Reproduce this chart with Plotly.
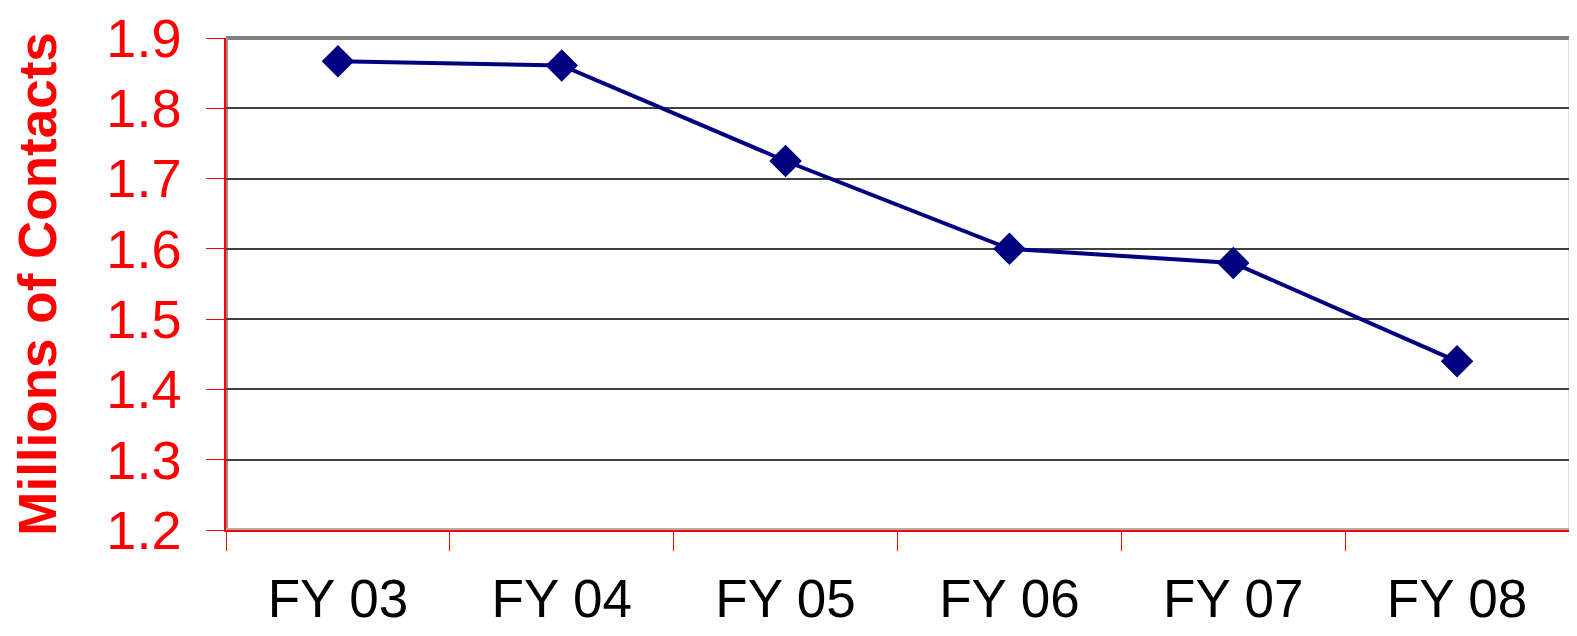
import plotly.graph_objects as go

categories = ["FY 03", "FY 04", "FY 05", "FY 06", "FY 07", "FY 08"]
contacts = [1.867, 1.861, 1.725, 1.600, 1.580, 1.440]
y_ticks = [1.2, 1.3, 1.4, 1.5, 1.6, 1.7, 1.8, 1.9]
y_tick_text = ["1.2", "1.3", "1.4", "1.5", "1.6", "1.7", "1.8", "1.9"]

FONT = "Liberation Sans, Arial, sans-serif"

fig = go.Figure()
fig.add_trace(go.Scatter(
    x=categories, y=contacts, mode="lines+markers",
    line=dict(color="#000080", width=4),
    marker=dict(symbol="diamond", size=25, color="#000080"),
    showlegend=False,
))

fig.update_layout(
    width=1561, height=620,
    margin=dict(l=218, r=0, t=29, b=96),
    paper_bgcolor="white", plot_bgcolor="white",
    font=dict(family=FONT),
    shapes=[
        dict(type="line", xref="paper", yref="paper", x0=0, x1=1, y0=1, y1=1,
             line=dict(color="#808080", width=4), layer="below"),
        dict(type="line", xref="paper", yref="paper", x0=1, x1=1, y0=0, y1=1,
             line=dict(color="#c0c0c0", width=1), layer="below"),
        dict(type="line", xref="paper", yref="paper", x0=0, x1=0, y0=0, y1=1,
             line=dict(color="#909090", width=4), layer="below"),
        dict(type="line", xref="paper", yref="paper", x0=0, x1=1, y0=0, y1=0,
             line=dict(color="#b0b0b0", width=4), layer="below"),
    ],
)

fig.update_xaxes(
    type="category", range=[-0.5, 5.5],
    showgrid=False, showline=True, linecolor="#ff0000", linewidth=1.5,
    ticks="outside", tickson="boundaries", ticklen=19, tickcolor="#ff0000", tickwidth=1,
    tickfont=dict(size=53, color="black", family=FONT),
    ticklabelstandoff=22,
    ticklabeloverflow="allow",
)
fig.update_yaxes(
    range=[1.2, 1.9], tickvals=y_ticks, ticktext=y_tick_text,
    showgrid=True, gridcolor="#404040", gridwidth=1.5,
    showline=True, linecolor="#ff0000", linewidth=1.5,
    ticks="outside", ticklen=18, tickcolor="#ff0000", tickwidth=1,
    tickfont=dict(size=54, color="#ff0000", family=FONT),
    ticklabelstandoff=14,
    ticklabeloverflow="allow",
    zeroline=False,
    title=dict(text="<b>Millions of Contacts</b>", font=dict(size=53, color="#ff0000", family=FONT),
               standoff=42),
)

fig.write_html("out.html")
